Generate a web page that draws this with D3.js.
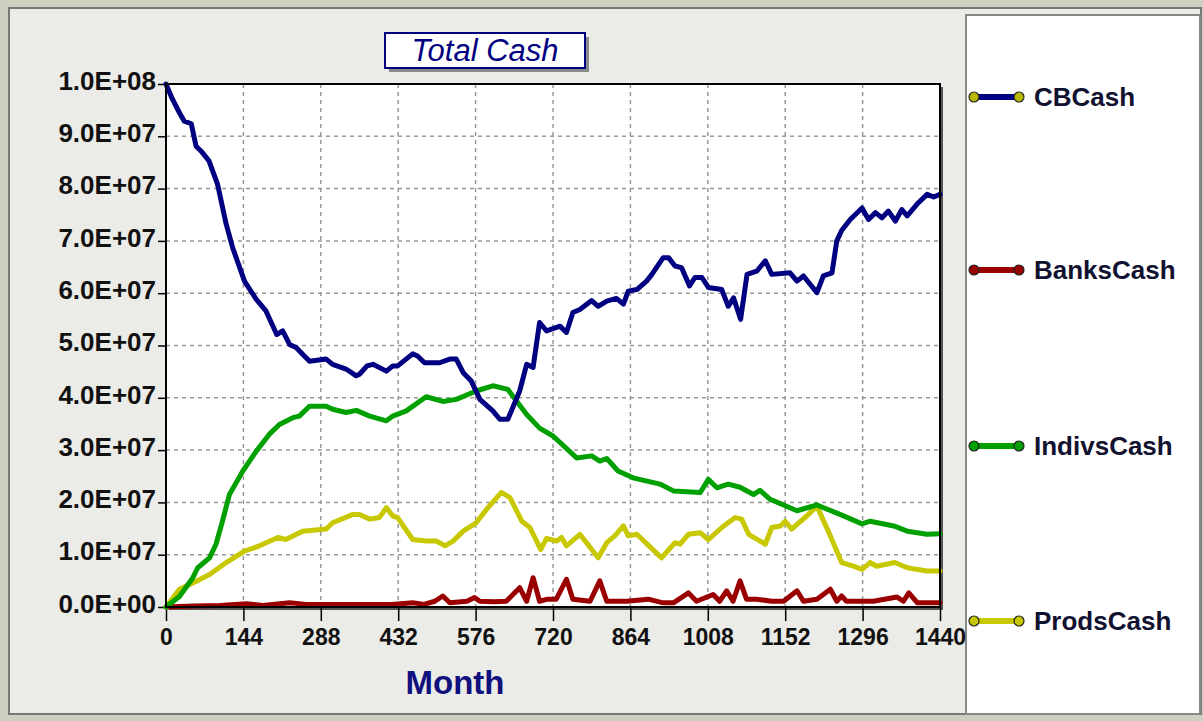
<!DOCTYPE html>
<html>
<head>
<meta charset="utf-8">
<script src="https://cdn.jsdelivr.net/npm/d3@7"></script>
<style>
  body { margin: 0; background: #cfcfbf; }
  svg { display: block; font-family: Arial, "Liberation Sans", sans-serif; }
</style>
</head>
<body>
<svg id="chart" width="1203" height="721"></svg>
<script>
// values in units of 1e7 as [month, value]
const cbCash = [[0,10.0],[12,9.71],[25,9.45],[34,9.29],[47,9.24],[56,8.81],[65,8.72],[80,8.53],[96,8.08],[112,7.32],[124,6.87],[146,6.23],[168,5.88],[186,5.66],[206,5.21],[217,5.28],[230,5.02],[242,4.96],[267,4.70],[298,4.74],[310,4.64],[335,4.55],[354,4.42],[360,4.45],[374,4.61],[385,4.64],[410,4.51],[422,4.61],[431,4.61],[459,4.84],[468,4.80],[481,4.67],[509,4.67],[528,4.74],[540,4.74],[553,4.48],[568,4.32],[584,3.97],[608,3.75],[621,3.59],[636,3.59],[658,4.13],[671,4.64],[683,4.58],[695,5.44],[708,5.28],[733,5.37],[745,5.25],[757,5.63],[770,5.69],[792,5.86],[804,5.75],[820,5.85],[838,5.90],[851,5.79],[860,6.04],[876,6.07],[894,6.23],[904,6.36],[925,6.68],[935,6.68],[947,6.52],[959,6.49],[974,6.14],[984,6.30],[997,6.30],[1009,6.11],[1034,6.07],[1046,5.75],[1056,5.91],[1069,5.50],[1081,6.36],[1099,6.42],[1115,6.62],[1127,6.36],[1161,6.39],[1174,6.23],[1186,6.33],[1211,6.01],[1223,6.33],[1239,6.39],[1248,7.0],[1257,7.2],[1273,7.41],[1295,7.63],[1307,7.41],[1320,7.54],[1332,7.44],[1344,7.57],[1357,7.38],[1369,7.60],[1379,7.48],[1397,7.70],[1416,7.89],[1428,7.84],[1440,7.89]];

const banksCash = [[0,0],[50,0.02],[100,0.03],[150,0.06],[180,0.03],[230,0.08],[260,0.05],[350,0.05],[420,0.05],[459,0.08],[480,0.05],[500,0.11],[515,0.21],[528,0.08],[560,0.11],[574,0.18],[584,0.11],[610,0.10],[633,0.11],[658,0.37],[671,0.11],[683,0.56],[695,0.11],[710,0.15],[726,0.15],[745,0.53],[757,0.15],[789,0.11],[807,0.50],[820,0.11],[857,0.11],[897,0.15],[925,0.08],[944,0.08],[972,0.27],[987,0.11],[1018,0.24],[1030,0.11],[1043,0.31],[1055,0.11],[1068,0.50],[1080,0.15],[1099,0.15],[1127,0.11],[1149,0.11],[1174,0.31],[1186,0.11],[1211,0.15],[1236,0.34],[1248,0.11],[1257,0.21],[1266,0.11],[1316,0.11],[1360,0.19],[1372,0.11],[1382,0.27],[1398,0.08],[1440,0.08]];

const indivsCash = [[0,0],[25,0.2],[50,0.56],[59,0.75],[81,0.94],[93,1.20],[105,1.64],[118,2.15],[143,2.60],[168,2.98],[192,3.30],[211,3.49],[236,3.62],[248,3.65],[267,3.84],[298,3.84],[310,3.78],[335,3.72],[354,3.76],[379,3.65],[410,3.56],[422,3.65],[447,3.75],[484,4.02],[515,3.93],[540,3.97],[577,4.13],[608,4.23],[636,4.16],[671,3.68],[695,3.42],[720,3.27],[764,2.85],[792,2.89],[807,2.79],[820,2.84],[841,2.60],[869,2.47],[919,2.35],[944,2.22],[994,2.19],[1009,2.44],[1025,2.28],[1046,2.35],[1068,2.29],[1093,2.15],[1105,2.23],[1124,2.06],[1174,1.84],[1211,1.95],[1254,1.77],[1295,1.59],[1310,1.64],[1354,1.55],[1379,1.45],[1416,1.39],[1440,1.40]];

const prodsCash = [[0,0],[25,0.34],[50,0.46],[81,0.62],[112,0.85],[146,1.07],[174,1.17],[208,1.33],[223,1.29],[254,1.45],[298,1.49],[310,1.61],[348,1.77],[360,1.77],[379,1.68],[397,1.71],[410,1.90],[422,1.74],[431,1.71],[459,1.29],[484,1.26],[503,1.26],[519,1.17],[534,1.26],[553,1.45],[577,1.61],[599,1.90],[624,2.19],[640,2.09],[662,1.64],[677,1.52],[697,1.10],[708,1.31],[727,1.26],[736,1.33],[745,1.17],[770,1.39],[804,0.94],[820,1.23],[835,1.36],[851,1.55],[860,1.36],[876,1.39],[922,0.94],[947,1.23],[956,1.20],[972,1.39],[994,1.42],[1009,1.29],[1034,1.52],[1059,1.71],[1071,1.68],[1084,1.39],[1115,1.20],[1127,1.52],[1143,1.55],[1152,1.64],[1164,1.49],[1192,1.74],[1211,1.93],[1236,1.36],[1257,0.85],[1279,0.78],[1295,0.72],[1310,0.85],[1322,0.78],[1356,0.85],[1379,0.75],[1416,0.69],[1440,0.69]];

const seriesNames = ["CBCash", "BanksCash", "IndivsCash", "ProdsCash"];
const seriesColors = ["#000080", "#9b0000", "#00a000", "#c8c800"];
const markerColors = ["#b8b800", "#9b0000", "#00a000", "#c8c800"];
const xTicks = [0, 144, 288, 432, 576, 720, 864, 1008, 1152, 1296, 1440];
const yTicks = [0, 1e7, 2e7, 3e7, 4e7, 5e7, 6e7, 7e7, 8e7, 9e7, 1e8];

const svg = d3.select("#chart");
const margin = { top: 84, left: 166, right: 263, bottom: 114 };
const width = 1203 - margin.left - margin.right;
const height = 721 - margin.top - margin.bottom;

// window frame
svg.append("rect").attr("x", 9).attr("y", 8).attr("width", 1192).attr("height", 706)
  .attr("fill", "#ebebe7").attr("stroke", "#777").attr("stroke-width", 2);

// legend box
svg.append("rect").attr("x", 966).attr("y", 15).attr("width", 234).attr("height", 699)
  .attr("fill", "#fff").attr("stroke", "#888").attr("stroke-width", 2);

const x = d3.scaleLinear().domain([0, 1440]).range([0, width]);
const y = d3.scaleLinear().domain([0, 1e8]).range([height, 0]);

const fmtE = (v) => {
  const s = d3.format(".1e")(v);
  const [m, e] = s.split("e");
  const sign = e[0] === "-" ? "-" : "+";
  const n = Math.abs(+e);
  return m + "E" + sign + (n < 10 ? "0" + n : n);
};

const g = svg.append("g").attr("transform", `translate(${margin.left},${margin.top})`);

// shadow + plot background
g.append("rect").attr("x", 3).attr("y", 3).attr("width", width).attr("height", height)
  .attr("fill", "#555");
g.append("rect").attr("width", width).attr("height", height).attr("fill", "#fff");

// grid
g.append("g").selectAll("line").data(xTicks.slice(1, -1)).join("line")
  .attr("x1", d => x(d)).attr("x2", d => x(d)).attr("y1", 0).attr("y2", height)
  .attr("stroke", "#999").attr("stroke-width", 1.5).attr("stroke-dasharray", "4,4");
g.append("g").selectAll("line").data(yTicks.slice(1, -1)).join("line")
  .attr("x1", 0).attr("x2", width).attr("y1", d => y(d)).attr("y2", d => y(d))
  .attr("stroke", "#999").attr("stroke-width", 1.5).attr("stroke-dasharray", "4,4");

// axes
const yAxis = g.append("g")
  .call(d3.axisLeft(y).tickValues(yTicks).tickFormat(fmtE).tickSize(8).tickPadding(2));
const xAxis = g.append("g").attr("transform", `translate(0,${height})`)
  .call(d3.axisBottom(x).tickValues(xTicks).tickFormat(d3.format("d")).tickSize(14).tickPadding(4));
[xAxis, yAxis].forEach(a => {
  a.select(".domain").remove();
  a.selectAll("line").attr("stroke", "#000").attr("stroke-width", 1.5);
  a.selectAll("text").attr("fill", "#111").attr("font-weight", "bold");
});
yAxis.selectAll("text").attr("font-size", 26).attr("dy", "0.2em");
xAxis.selectAll("text").attr("font-size", 23).attr("dy", "0.85em");

// lines
const line = d3.line().x(d => x(d[0])).y(d => y(d[1] * 1e7));
const allSeries = [cbCash, banksCash, indivsCash, prodsCash];
const drawOrder = [1, 3, 2, 0];
drawOrder.forEach(i => {
  g.append("path").datum(allSeries[i])
    .attr("fill", "none").attr("stroke", seriesColors[i]).attr("stroke-width", 5)
    .attr("stroke-linejoin", "round").attr("stroke-linecap", "round")
    .attr("d", line);
});

// frame
g.append("rect").attr("width", width).attr("height", height)
  .attr("fill", "none").attr("stroke", "#000").attr("stroke-width", 2);

// title
const tg = svg.append("g").attr("transform", "translate(385,33)");
tg.append("rect").attr("x", 4).attr("y", 4).attr("width", 200).attr("height", 35).attr("fill", "#8a8a8a");
tg.append("rect").attr("width", 200).attr("height", 35).attr("fill", "#fff")
  .attr("stroke", "#000080").attr("stroke-width", 2);
tg.append("text").attr("x", 100).attr("y", 28).attr("text-anchor", "middle")
  .attr("font-size", 31).attr("font-style", "italic").attr("fill", "#000080").text("Total Cash");

// x axis title
svg.append("text").attr("x", 455).attr("y", 694).attr("text-anchor", "middle")
  .attr("font-size", 33).attr("font-weight", "bold").attr("fill", "#10107f").text("Month");

// legend
const legendY = [97, 270, 446, 621];
const lg = svg.append("g").selectAll("g").data(seriesNames).join("g")
  .attr("transform", (d, i) => `translate(0,${legendY[i]})`);
lg.append("line").attr("x1", 974).attr("x2", 1019).attr("y1", 0).attr("y2", 0)
  .attr("stroke", (d, i) => seriesColors[i]).attr("stroke-width", 6);
lg.selectAll("circle").data((d, i) => [i, i]).join("circle")
  .attr("cx", (d, j) => j ? 1019 : 974).attr("cy", 0).attr("r", 5)
  .attr("fill", d => markerColors[d]).attr("stroke", "#222").attr("stroke-width", 1.2);
lg.append("text").attr("x", 1034).attr("y", 9).attr("font-size", 26).attr("font-weight", "bold")
  .attr("fill", "#111130").text(d => d);
</script>
</body>
</html>
